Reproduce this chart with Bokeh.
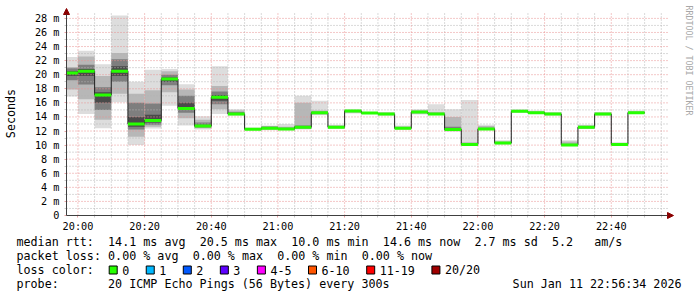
import math
from bokeh.plotting import figure
from bokeh.models import Range1d, FixedTicker, Label, BoxAnnotation, Arrow, NormalHead, LinearAxis
from bokeh.embed import file_html
from bokeh.resources import INLINE

# ---------------- data ----------------
graph_start = "19:56:34"
graph_end = "22:56:34"
interval_start = ["19:55", "20:00", "20:05", "20:10", "20:15", "20:20", "20:25", "20:30",
                  "20:35", "20:40", "20:45", "20:50", "20:55", "21:00", "21:05", "21:10",
                  "21:15", "21:20", "21:25", "21:30", "21:35", "21:40", "21:45", "21:50",
                  "21:55", "22:00", "22:05", "22:10", "22:15", "22:20", "22:25", "22:30",
                  "22:35", "22:40", "22:45"]
median = [20.25, 20.5, 17.1, 20.5, 13.0, 13.5, 19.4, 15.2, 12.7, 16.8, 14.4, 12.25,
          12.4, 12.3, 12.55, 14.6, 12.55, 14.85, 14.55, 14.4, 12.4, 14.7, 14.4, 12.2,
          10.1, 12.3, 10.3, 14.8, 14.6, 14.4, 10.0, 12.55, 14.4, 10.1, 14.6]
smoke_min = [16.9, 14.4, 12.4, 16.1, 10.0, 12.35, 15.6, 12.8, 12.2, 14.4, 14.2, 12.1,
             12.1, 12.1, 12.2, 14.25, 12.3, 14.5, 14.4, 14.2, 12.2, 14.35, 14.25, 11.9,
             9.9, 12.2, 10.1, 14.6, 14.4, 14.2, 9.95, 12.3, 14.2, 10.0, 14.4]
smoke_p15 = [17.9, 16.5, 13.6, 17.3, 11.2, 12.6, 17.5, 13.8, 12.4, 15.1, 14.25, 12.15,
             12.2, 12.15, 12.3, 14.35, 12.4, 14.6, 14.45, 14.25, 12.25, 14.45, 14.3, 12.0,
             9.95, 12.2, 10.15, 14.65, 14.45, 14.25, 10.0, 12.35, 14.25, 10.05, 14.45]
smoke_p30 = [19.2, 18.6, 15.0, 19.0, 12.2, 12.9, 18.5, 14.6, 12.5, 15.8, 14.3, 12.2,
             12.3, 12.2, 12.4, 14.45, 12.45, 14.7, 14.5, 14.3, 12.3, 14.55, 14.35, 12.1,
             10.0, 12.25, 10.2, 14.7, 14.5, 14.3, 10.0, 12.4, 14.3, 10.05, 14.5]
smoke_p40 = [19.8, 19.8, 16.0, 19.8, 12.6, 13.2, 19.0, 15.0, 12.6, 16.3, 14.35, 12.22,
             12.35, 12.25, 12.5, 14.55, 12.5, 14.8, 14.52, 14.35, 12.35, 14.65, 14.38, 12.15,
             10.05, 12.28, 10.25, 14.75, 14.55, 14.35, 10.0, 12.5, 14.35, 10.1, 14.55]
smoke_p60 = [20.5, 20.8, 17.5, 21.2, 14.0, 14.3, 19.6, 16.0, 12.9, 17.1, 14.5, 12.3,
             12.5, 12.35, 12.7, 14.65, 12.6, 14.9, 14.58, 14.45, 12.45, 14.75, 14.45, 12.3,
             10.15, 12.35, 10.35, 14.85, 14.65, 14.45, 10.1, 12.6, 14.45, 10.15, 14.65]
smoke_p70 = [20.9, 21.4, 18.2, 22.2, 16.0, 15.9, 20.0, 17.0, 13.2, 17.6, 14.7, 12.35,
             12.6, 12.45, 12.8, 14.75, 12.7, 14.95, 14.6, 14.5, 12.55, 14.85, 14.55, 12.6,
             10.25, 12.45, 10.4, 14.9, 14.7, 14.5, 10.2, 12.7, 14.5, 10.2, 14.7]
smoke_p85 = [21.1, 22.6, 19.8, 23.1, 17.3, 17.8, 20.5, 17.9, 13.6, 18.4, 14.9, 12.4,
             12.7, 12.6, 16.0, 14.9, 12.8, 15.0, 14.65, 14.6, 12.65, 14.95, 14.7, 14.0,
             10.4, 12.7, 10.5, 15.0, 14.8, 14.6, 10.5, 12.8, 14.6, 10.3, 14.8]
smoke_max = [22.5, 23.4, 21.5, 28.4, 19.0, 20.7, 20.8, 18.65, 14.1, 21.2, 15.1, 12.5,
             12.8, 13.0, 17.0, 16.3, 12.9, 15.1, 14.7, 14.7, 12.8, 15.1, 15.8, 15.1,
             16.4, 12.9, 10.7, 15.1, 14.9, 14.7, 10.7, 12.9, 14.7, 10.4, 14.9]
step_minutes = 5

y_ticks = [0, 2, 4, 6, 8, 10, 12, 14, 16, 18, 20, 22, 24, 26, 28]
y_tick_labels = ["0", "2 m", "4 m", "6 m", "8 m", "10 m", "12 m", "14 m", "16 m",
                 "18 m", "20 m", "22 m", "24 m", "26 m", "28 m"]
x_tick_labels = ["20:00", "20:20", "20:40", "21:00", "21:20", "21:40", "22:00", "22:20", "22:40"]

rtt_avg, rtt_max, rtt_min, rtt_now, rtt_sd, am_s = 14.1, 20.5, 10.0, 14.6, 2.7, 5.2
loss_avg, loss_max, loss_min, loss_now = 0.00, 0.00, 0.00, 0.00
loss_labels = ["0", "1", "2", "3", "4-5", "6-10", "11-19", "20/20"]
loss_colors = ["#26ff00", "#00b8ff", "#0059ff", "#5e00ff", "#ff00ff", "#ff5500", "#ff0000", "#a00000"]
probe_text = "20 ICMP Echo Pings (56 Bytes) every 300s"
date_text = "Sun Jan 11 22:56:34 2026"
y_title = "Seconds"
watermark = "RRDTOOL / TOBI OETIKER"

# ---------------- layout ----------------
W, H = 697, 297
FL, FB = 66, 215            # pixel position of the graph origin
ARROW_X, ARROW_Y = 673, 8   # arrow tips
GRID_R, GRID_T = 668, 13
PX_PER_MIN = 600 / 180.0
PX_PER_UNIT = 7.04
CW = 7.045                  # legend char width
MONO = "DejaVu Sans Mono"


def hm(s):
    parts = [int(v) for v in s.split(":")]
    m = parts[0] * 60 + parts[1] + (parts[2] / 60.0 if len(parts) > 2 else 0.0)
    return m - 20 * 60


x0 = hm(graph_start)
xs = x0 - FL / PX_PER_MIN
xe = xs + W / PX_PER_MIN
ys = -(H - FB) / PX_PER_UNIT
ye = FB / PX_PER_UNIT
x_arrow = x0 + (ARROW_X - FL) / PX_PER_MIN
y_arrow = (FB - ARROW_Y) / PX_PER_UNIT
grid_x_end = x0 + (GRID_R - FL) / PX_PER_MIN
grid_y_top = (FB - GRID_T) / PX_PER_UNIT

p = figure(width=W, height=H, x_range=Range1d(xs, xe), y_range=Range1d(ys, ye),
           x_axis_type=None, y_axis_type=None,
           output_backend="svg", toolbar_location=None,
           min_border_left=0, min_border_right=0, min_border_top=0, min_border_bottom=0)
p.outline_line_color = None
p.background_fill_color = "white"
p.border_fill_color = "white"
p.grid.visible = False

# smoke
starts = [max(hm(s), x0) for s in interval_start]
ends = [hm(s) + step_minutes for s in interval_start]
layers = [(smoke_min, smoke_max, "#dddddd"),
          (smoke_p15, smoke_p85, "#b7b7b7"),
          (smoke_p30, smoke_p70, "#7e7e7e"),
          (smoke_p40, smoke_p60, "#4a4a4a")]
for lo, hi, colr in layers:
    p.quad(left=starts, right=ends, bottom=lo, top=hi, fill_color=colr, line_color=None)

# grid
minor_x = [hm("20:00") + 5 * k for k in range(36)]
major_x = [hm(t) for t in x_tick_labels]
minor_y = [v for v in range(1, 29)]
mgx = [v for v in minor_x if v not in major_x]
mgy = [v for v in minor_y if v not in y_ticks]
gy = [v for v in y_ticks if v > 0]
GRAY, PINK = "#b4b4b4", "#e89090"
p.segment(x0=[x0] * len(mgy), x1=[grid_x_end] * len(mgy), y0=mgy, y1=mgy,
          line_color=GRAY, line_dash="1 2", line_width=1)
p.segment(x0=mgx, x1=mgx, y0=[0] * len(mgx), y1=[grid_y_top] * len(mgx),
          line_color=GRAY, line_dash="1 2", line_width=1)
p.segment(x0=[x0] * len(gy), x1=[grid_x_end] * len(gy), y0=gy, y1=gy,
          line_color=PINK, line_dash="1 2", line_width=1)
p.segment(x0=major_x, x1=major_x, y0=[0] * len(major_x), y1=[grid_y_top] * len(major_x),
          line_color=PINK, line_dash="1 2", line_width=1)

# median line (black step) + loss-coloured band
p.segment(x0=starts, x1=ends, y0=median, y1=median, line_color="#202020", line_width=1)
p.segment(x0=ends[:-1], x1=ends[:-1], y0=median[:-1], y1=median[1:],
          line_color="#202020", line_width=1)
p.segment(x0=starts, x1=ends, y0=median, y1=median, line_color=loss_colors[0],
          line_width=3, line_cap="butt")

# axes (drawn inside the canvas at the graph origin)
yaxis = LinearAxis(fixed_location=x0,
                   ticker=FixedTicker(ticks=y_ticks, minor_ticks=mgy),
                   major_label_overrides={t: l for t, l in zip(y_ticks, y_tick_labels)})
xaxis = LinearAxis(fixed_location=0,
                   ticker=FixedTicker(ticks=major_x, minor_ticks=mgx),
                   major_label_overrides={t: l for t, l in zip(major_x, x_tick_labels)})
for ax in (xaxis, yaxis):
    ax.axis_line_color = None
    ax.major_label_text_font = MONO
    ax.major_label_text_font_size = "10.2px"
    ax.major_label_text_color = "black"
    ax.major_tick_in = 0
    ax.minor_tick_in = 0
    ax.major_tick_out = 2
    ax.minor_tick_out = 2
    ax.major_tick_line_color = "#e9a3a3"
    ax.minor_tick_line_color = "#c8c8c8"
xaxis.major_label_standoff = 3
yaxis.major_label_standoff = 5
p.add_layout(xaxis, "below")
p.add_layout(yaxis, "left")

p.add_layout(Arrow(x_start=x0, y_start=0, x_end=x_arrow, y_end=0, line_color="#404040", line_width=1,
                   end=NormalHead(size=6, fill_color="#8b0000", line_color="#8b0000")))
p.add_layout(Arrow(x_start=x0, y_start=0, x_end=x0, y_end=y_arrow, line_color="#404040", line_width=1,
                   end=NormalHead(size=6, fill_color="#8b0000", line_color="#8b0000")))


def lab(text, X, Y, size="11.7px", align="left", color="black", angle=0.0, font=MONO):
    p.add_layout(Label(x=X, y=H - Y, x_units="screen", y_units="screen", text=text,
                       text_font=font, text_font_size=size, text_align=align,
                       text_baseline="middle", text_color=color, angle=angle))


lab(y_title, 10, 113, angle=math.pi / 2, align="center")
lab(watermark, 688.5, 5, size="8.3px", color="#a8a8a8", angle=-math.pi / 2)

LX = 16
rows = [241, 255.5, 269.5, 283.5]


def col(c):
    return LX + c * CW


# line 1
lab("median rtt:", col(0), rows[0])
tokens1 = [("%.1f ms avg" % rtt_avg, 13), ("%.1f ms max" % rtt_max, 26), ("%.1f ms min" % rtt_min, 39),
           ("%.1f ms now" % rtt_now, 52), ("%.1f ms sd" % rtt_sd, 65), ("%.1f" % am_s, 76), ("am/s", 82)]
for t, c in tokens1:
    lab(t, col(c), rows[0])
# line 2
lab("packet loss:", col(0), rows[1])
tokens2 = [("%.2f %% avg" % loss_avg, 13), ("%.2f %% max" % loss_max, 25),
           ("%.2f %% min" % loss_min, 37), ("%.2f %% now" % loss_now, 49)]
for t, c in tokens2:
    lab(t, col(c), rows[1])
# line 3
lab("loss color:", col(0), rows[2])
bx = 108.7
for l, c in zip(loss_labels, loss_colors):
    p.add_layout(BoxAnnotation(left=bx, right=bx + 8, top=H - (rows[2] - 4),
                               bottom=H - (rows[2] + 4), left_units="screen", right_units="screen",
                               top_units="screen", bottom_units="screen", fill_color=c,
                               fill_alpha=1.0, line_color="black", line_alpha=1.0, line_width=1))
    lab(l, bx + 13, rows[2])
    bx = bx + 13 + len(l) * CW + 17
# line 4
lab("probe:", col(0), rows[3])
lab(probe_text, col(13), rows[3])
lab(date_text, 681, rows[3], align="right")

open("out.html", "w").write(file_html(p, INLINE))
